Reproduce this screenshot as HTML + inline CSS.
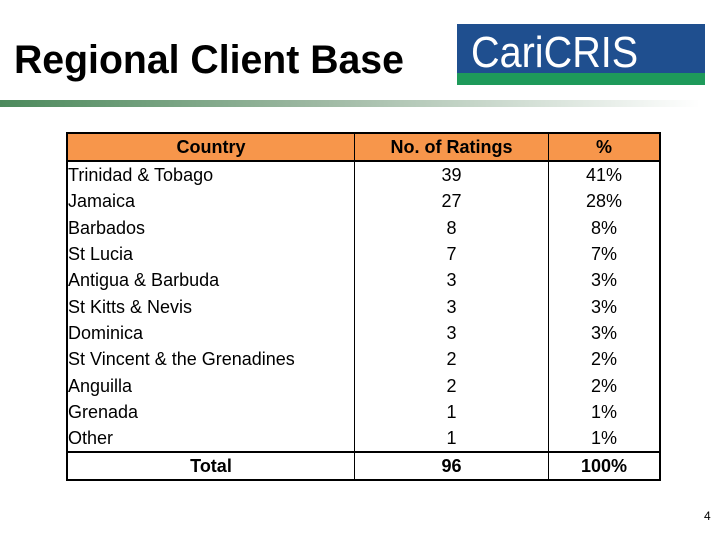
<!DOCTYPE html>
<html><head><meta charset="utf-8"><style>
body{margin:0;width:720px;height:540px;background:#fff;position:relative;overflow:hidden;font-family:"Liberation Sans",Arial,sans-serif}
#title{position:absolute;left:14px;top:38px;font-size:40px;font-weight:bold;white-space:nowrap;transform-origin:0 0;transform:scaleX(0.98);color:#000}
#logo{position:absolute;left:457px;top:24px;width:248px;height:61px;background:#1f4f8f}
#logo .g{position:absolute;left:0;bottom:0;width:100%;height:12px;background:#1e9a5a}
#logo .t{position:absolute;left:14px;top:4px;font-size:44px;color:#fff;transform-origin:0 0;transform:scaleX(0.9);white-space:nowrap}
#bar{position:absolute;left:0;top:100px;width:700px;height:7px;background:linear-gradient(to right,#4c8a5c,#9db8a2 45%,#fff)}
table{position:absolute;left:66px;top:132px;border-collapse:collapse;border:2px solid #000;font-size:18px}
td{padding:0;height:26.3px;line-height:26px;border-left:1px solid #000;border-right:1px solid #000}
tr.h td{background:#f7964b;font-weight:bold;text-align:center;border-bottom:2px solid #000;height:26px}
tr.t td{font-weight:bold;text-align:center;border-top:2px solid #000;height:25px}
td.c{width:286px}td.n{width:193px;text-align:center}td.p{width:110px;text-align:center}
#pg{position:absolute;left:704px;top:509px;font-size:12px}
</style></head><body>
<div id="title">Regional Client Base</div>
<div id="logo"><div class="g"></div><div class="t">CariCRIS</div></div>
<div id="bar"></div>
<table id="tbl">
<tr class="h"><td class="c">Country</td><td class="n">No. of Ratings</td><td class="p">%</td></tr>
</table>
<div id="pg">4</div>
<script>
const countries=["Trinidad & Tobago","Jamaica","Barbados","St Lucia","Antigua & Barbuda","St Kitts & Nevis","Dominica","St Vincent & the Grenadines","Anguilla","Grenada","Other"];
const ratings=[39,27,8,7,3,3,3,2,2,1,1];
const percents=["41%","28%","8%","7%","3%","3%","3%","2%","2%","1%","1%"];
const totalLabel="Total",totalRatings=96,totalPercent="100%";
const tbl=document.getElementById('tbl');
function row(a,b,c,cls){
  const tr=document.createElement('tr');
  
  
  if(cls)tr.className=cls;
  [[a,'c'],[b,'n'],[c,'p']].forEach(([v,k])=>{const td=document.createElement('td');td.className=k;td.textContent=v;
  
  
  tr.appendChild(td);});
  tbl.appendChild(tr);
}
countries.forEach((c,i)=>row(c,ratings[i],percents[i]));
row(totalLabel,totalRatings,totalPercent,'t');
</script>
</body></html>
